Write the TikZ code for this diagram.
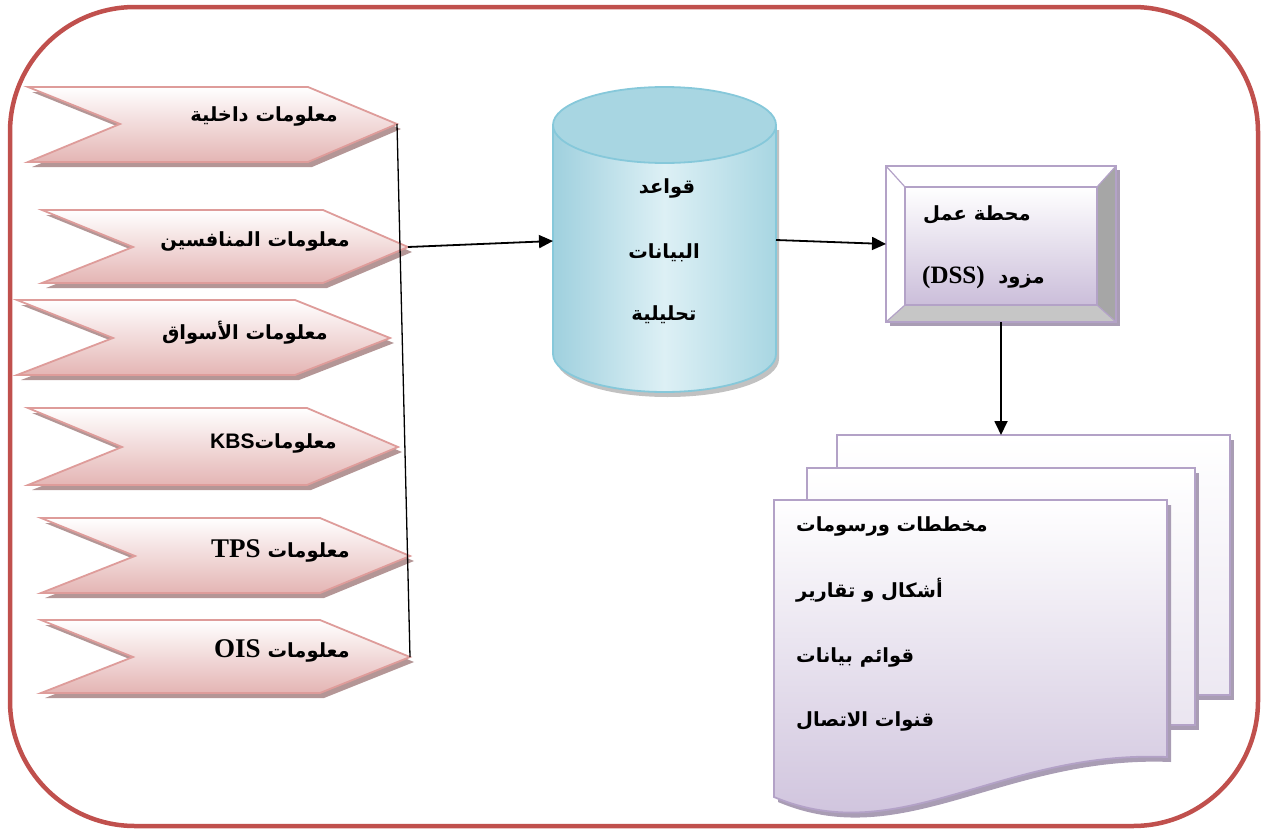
\documentclass[tikz,border=0pt]{standalone}
\usepackage{fontspec}
\newfontfamily\arabicfont[Script=Arabic]{DejaVu Sans}
\newfontfamily\latinsans{Liberation Sans}
\newfontfamily\latinserif{Liberation Serif}
\TeXXeTstate=1
\usetikzlibrary{arrows.meta}

\definecolor{framered}{HTML}{C0504D}
\definecolor{chevline}{HTML}{DE9C9A}
\definecolor{chevfill}{HTML}{E4B5B4}
\definecolor{chevshade}{HTML}{B49696}
\definecolor{dbline}{HTML}{86C8DA}
\definecolor{dbtop}{HTML}{A8D6E2}
\definecolor{dbside}{HTML}{9FD0DE}
\definecolor{dbmid}{HTML}{DDF0F5}
\definecolor{lavline}{HTML}{B3A2C7}
\definecolor{lavfill}{HTML}{CBBEDA}
\definecolor{lavshade}{HTML}{A99DB4}
\definecolor{bevelright}{HTML}{A6A6A6}
\definecolor{bevelbottom}{HTML}{C6C6C6}

\tikzset{
  chevbody/.style={draw=chevline, line width=1.8pt, line join=miter,
    top color=white, bottom color=chevfill},
  ar/.style={font=\arabicfont\bfseries\fontsize{19.5}{23}\selectfont, inner sep=0pt},
  link/.style={draw=black, line width=1.3pt},
  flow/.style={draw=black, line width=1.8pt,
    -{Triangle[length=14pt,width=13pt]}},
  docbody/.style={draw=lavline, line width=1.8pt, line join=miter},
  anchorbox/.style={inner sep=0pt, outer sep=0pt}
}

% chevron: name, left x, right x, top y, middle y, bottom y, notch x, tip x
\newcommand{\infochev}[8]{%
  \fill[chevshade, shift={(4,5)}] (#2,#4) -- (#3,#4) -- (#8,#5) -- (#3,#6) -- (#2,#6) -- (#7,#5) -- cycle;
  \path[chevbody] (#2,#4) -- (#3,#4) -- (#8,#5) -- (#3,#6) -- (#2,#6) -- (#7,#5) -- cycle;
  \coordinate (#1) at (#8,#5);
}

\begin{document}
\begin{tikzpicture}[x=1pt,y=-1pt]
\useasboundingbox (0,0) rectangle (1261,830);

% outer frame
\draw[framered, line width=4.5pt, rounded corners=125pt] (10,7) rectangle (1258,826);

% information sources
\infochev{c1}{28}{308}{87}{124}{162}{120}{397}
\infochev{c2}{42}{323}{210}{247}{283}{133}{408}
\infochev{c3}{17}{295}{300}{338}{375}{113}{390}
\infochev{c4}{28}{307}{408}{447}{485}{122}{398}
\infochev{c5}{41}{320}{518}{556}{593}{135}{410}
\infochev{c6}{41}{320}{620}{657}{693}{133}{410}

\node[ar, anchor=base east] (t1) at (338,121) {\beginR معلومات داخلية\endR};
\node[ar, anchor=base east] (t2) at (350,246) {\beginR معلومات المنافسين\endR};
\node[ar, anchor=base east] (t3) at (328,339) {\beginR معلومات الأسواق\endR};
\node[ar, anchor=base east] (t4) at (337,448) {\beginR معلومات\beginL{\latinsans\bfseries\fontsize{21}{24}\selectfont KBS}\endL\endR};
\node[ar, anchor=base east] (t5) at (350,557) {\beginR معلومات \beginL{\latinserif\bfseries\fontsize{27}{30}\selectfont TPS}\endL\endR};
\node[ar, anchor=base east] (t6) at (350,657) {\beginR معلومات \beginL{\latinserif\bfseries\fontsize{27}{30}\selectfont OIS}\endL\endR};

% collecting line
\draw[link] (c1) -- (c6);

% analytical database
\fill[bevelright!70, shift={(3,5)}] (553,125) -- (553,354) arc[start angle=180, end angle=0, x radius=111.5, y radius=38] -- (776,125) -- cycle;
\path[draw=dbline, line width=1.8pt, left color=dbside, right color=dbtop, middle color=dbmid]
  (553,125) -- (553,354) arc[start angle=180, end angle=0, x radius=111.5, y radius=38] -- (776,125) -- cycle;
\path[draw=dbline, line width=1.8pt, fill=dbtop] (664.5,125) ellipse[x radius=111.5, y radius=38];
\node[anchorbox, minimum width=223pt, minimum height=229pt] (db) at (664.5,240) {};
\node[ar, anchor=base] (d1) at (667,193) {\beginR قواعد\endR};
\node[ar, anchor=base] (d2) at (664,258) {\beginR البيانات\endR};
\node[ar, anchor=base] (d3) at (664,320) {\beginR تحليلية\endR};

% workstation box (DSS)
\fill[lavshade, shift={(4,4)}] (886,166) rectangle (1116,322);
\fill[white] (886,166) rectangle (1116,322);
\fill[bevelright] (1116,166) -- (1116,322) -- (1097,305) -- (1097,187) -- cycle;
\fill[bevelbottom] (886,322) -- (1116,322) -- (1097,305) -- (905,305) -- cycle;
\path[top color=white, bottom color=lavfill] (905,187) rectangle (1097,305);
\draw[lavline, line width=1.8pt] (886,166) rectangle (1116,322);
\draw[lavline, line width=1.8pt] (905,187) rectangle (1097,305);
\draw[lavline, line width=1.2pt] (886,166) -- (905,187) (1116,166) -- (1097,187)
  (886,322) -- (905,305) (1116,322) -- (1097,305);
\node[anchorbox, minimum width=230pt, minimum height=156pt] (dss) at (1001,244) {};
\node[ar, anchor=base west] (w1) at (923,220) {\beginR محطة عمل\endR};
\node[ar, anchor=base west] (w2) at (922,283) {\beginR مزود\ \ \beginL{\latinserif\bfseries\fontsize{25}{28}\selectfont (DSS)}\endL\endR};

% stacked output documents
\fill[lavshade, shift={(4,5)}] (837,435) rectangle (1230,695);
\path[docbody, top color=white, bottom color=lavfill!35] (837,435) rectangle (1230,695);
\node[anchorbox, minimum width=393pt, minimum height=260pt] (doc3) at (1033.5,565) {};
\fill[lavshade, shift={(4,5)}] (807,468) rectangle (1195,725);
\path[docbody, top color=white, bottom color=lavfill!40] (807,468) rectangle (1195,725);
\node[anchorbox, minimum width=388pt, minimum height=257pt] (doc2) at (1001,596.5) {};
\fill[lavshade, shift={(4,5)}] (774,500) -- (1167,500) -- (1167,757)
  .. controls (1000,750) and (900,850) .. (774,797) -- cycle;
\path[docbody, top color=white, bottom color=lavfill] (774,500) -- (1167,500) -- (1167,757)
  .. controls (1000,750) and (900,850) .. (774,797) -- cycle;
\node[anchorbox, minimum width=393pt, minimum height=257pt] (doc1) at (970.5,628.5) {};
\node[ar, anchor=base west] (o1) at (796,531) {\beginR مخططات ورسومات\endR};
\node[ar, anchor=base west] (o2) at (796,597) {\beginR أشكال و تقارير\endR};
\node[ar, anchor=base west] (o3) at (796,662) {\beginR قوائم بيانات\endR};
\node[ar, anchor=base west] (o4) at (796,726) {\beginR قنوات الاتصال\endR};

% flow arrows
\draw[flow] (c2) -- (db.west |- 0,241);
\draw[flow] (db.east) -- (dss.west);
\draw[flow] (dss.south) -- (dss.south |- doc3.north);
\end{tikzpicture}
\end{document}
